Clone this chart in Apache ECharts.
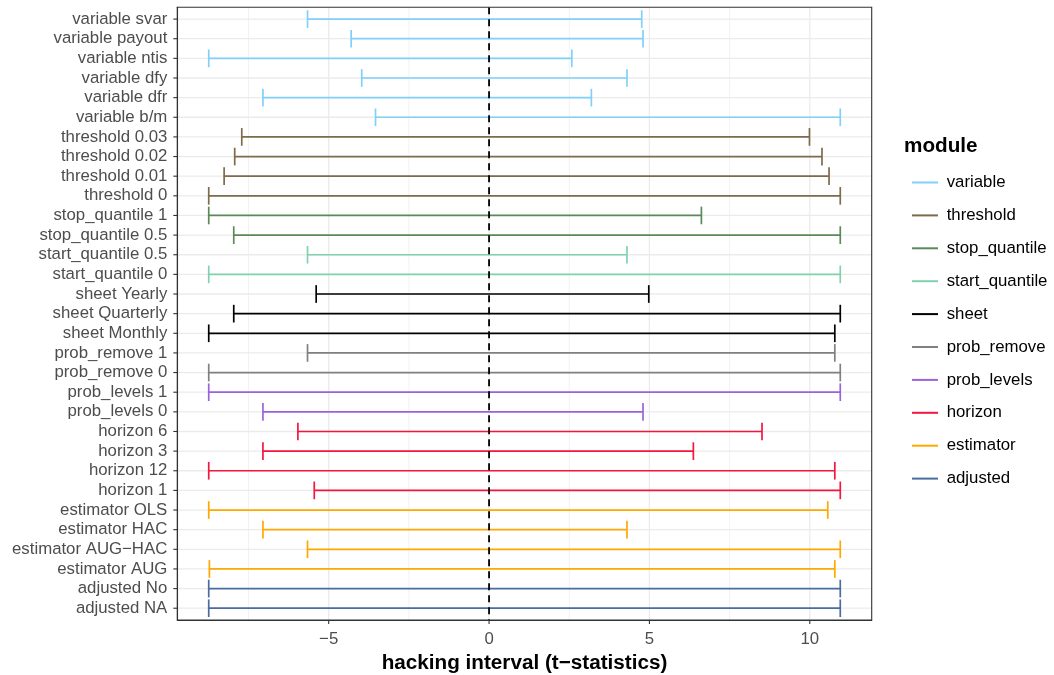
<!DOCTYPE html>
<html>
<head>
<meta charset="utf-8">
<script src="https://cdn.jsdelivr.net/npm/echarts@6/dist/echarts.min.js"></script>
<style>html,body{margin:0;padding:0;background:#fff}#c{width:1054px;height:675px}</style>
</head>
<body>
<div id="c"></div>
<script>
// ---- data (top to bottom) ----
const categories = [
  "variable svar","variable payout","variable ntis","variable dfy","variable dfr","variable b/m",
  "threshold 0.03","threshold 0.02","threshold 0.01","threshold 0",
  "stop_quantile 1","stop_quantile 0.5","start_quantile 0.5","start_quantile 0",
  "sheet Yearly","sheet Quarterly","sheet Monthly",
  "prob_remove 1","prob_remove 0","prob_levels 1","prob_levels 0",
  "horizon 6","horizon 3","horizon 12","horizon 1",
  "estimator OLS","estimator HAC","estimator AUG\u2212HAC","estimator AUG",
  "adjusted No","adjusted NA"
];
const modules = ["variable","variable","variable","variable","variable","variable",
  "threshold","threshold","threshold","threshold",
  "stop_quantile","stop_quantile","start_quantile","start_quantile",
  "sheet","sheet","sheet",
  "prob_remove","prob_remove","prob_levels","prob_levels",
  "horizon","horizon","horizon","horizon",
  "estimator","estimator","estimator","estimator",
  "adjusted","adjusted"];
const lower = [-5.66,-4.30,-8.74,-3.97,-7.05,-3.54,
  -7.71,-7.93,-8.26,-8.74,
  -8.74,-7.96,-5.66,-8.74,
  -5.39,-7.96,-8.74,
  -5.66,-8.74,-8.74,-7.05,
  -5.96,-7.05,-8.74,-5.45,
  -8.74,-7.05,-5.66,-8.72,
  -8.74,-8.74];
const upper = [4.76,4.80,2.58,4.30,3.19,10.95,
  9.99,10.38,10.60,10.95,
  6.62,10.95,4.30,10.95,
  4.98,10.95,10.78,
  10.78,10.95,10.95,4.80,
  8.51,6.37,10.78,10.95,
  10.56,4.30,10.95,10.78,
  10.95,10.95];
const legendOrder = ["variable","threshold","stop_quantile","start_quantile","sheet","prob_remove","prob_levels","horizon","estimator","adjusted"];
const moduleColors = ["#80D0FA","#7D6B4B","#5A8A57","#80D2AE","#000000","#808080","#9C63D9","#F5163F","#FFA800","#4A6CA0"];
const xMajorTicks = [-5,0,5,10];
const xMinorTicks = [-7.5,-2.5,2.5,7.5];
const xMin = -9.72, xMax = 11.93;
const zeroLine = [0];
// --------------------------------

const n = categories.length;
const yIdx = categories.map((_, i) => i);

const chart = echarts.init(document.getElementById('c'), null, {renderer: 'canvas'});
const FONT = '"Liberation Sans", Arial, Helvetica, sans-serif';
const TICK = {stroke:'#333333', lineWidth:1.1};

function gridRender(params, api) {
  const cs = params.coordSys;
  const kind = api.value(0), v = api.value(1);
  if (kind === 2) {
    const p = api.coord([xMin, v]);
    return {type:'group', silent:true, children:[
      {type:'line', shape:{x1:cs.x, y1:p[1], x2:cs.x+cs.width, y2:p[1]}, style:{stroke:'#EBEBEB', lineWidth:1.3}},
      {type:'line', shape:{x1:cs.x-4, y1:p[1], x2:cs.x, y2:p[1]}, style:TICK}
    ]};
  }
  const p = api.coord([v, 0]);
  const children = [{type:'line', shape:{x1:p[0], y1:cs.y, x2:p[0], y2:cs.y+cs.height},
    style:{stroke:'#EBEBEB', lineWidth: kind === 0 ? 1.3 : 0.65}}];
  if (kind === 0) children.push({type:'line', shape:{x1:p[0], y1:cs.y+cs.height, x2:p[0], y2:cs.y+cs.height+4}, style:TICK});
  return {type:'group', silent:true, children};
}
const gridData = [].concat(
  xMajorTicks.map(v => [0, v]),
  xMinorTicks.map(v => [1, v]),
  yIdx.map(v => [2, v])
);

function barRender(params, api) {
  const lo = api.value(0), hi = api.value(1), y = api.value(2);
  const a = api.coord([lo, y]), b = api.coord([hi, y]);
  const h = api.size([0, 1])[1] * 0.9 / 2;
  const color = api.visual('color');
  const st = {stroke: color, lineWidth: 1.7};
  return {type:'group', children:[
    {type:'line', shape:{x1:a[0], y1:a[1], x2:b[0], y2:b[1]}, style:st},
    {type:'line', shape:{x1:a[0], y1:a[1]-h, x2:a[0], y2:a[1]+h}, style:st},
    {type:'line', shape:{x1:b[0], y1:b[1]-h, x2:b[0], y2:b[1]+h}, style:st}
  ]};
}

const series = [{
  type:'custom', name:'_grid', renderItem: gridRender, data: gridData, z:0, silent:true, clip:false,
  encode:{x:1, y:1}, tooltip:{show:false}
}];
legendOrder.forEach((m, k) => {
  const data = [];
  categories.forEach((c, i) => { if (modules[i] === m) data.push([lower[i], upper[i], i]); });
  series.push({type:'custom', name:m, renderItem: barRender, data, z:2,
    itemStyle:{color: moduleColors[k]}, encode:{x:[0,1], y:2}});
});
series.push({type:'custom', name:'_zero', z:3, silent:true, data: zeroLine.map(v=>[v]),
  encode:{x:0},
  renderItem: (params, api) => {
    const cs = params.coordSys;
    const p = api.coord([api.value(0), 0]);
    return {type:'line', shape:{x1:p[0], y1:cs.y, x2:p[0], y2:cs.y+cs.height},
      style:{stroke:'#000', lineWidth:1.8, lineDash:[7,5]}};
  }});

const option = {
  backgroundColor:'#fff',
  animation:false,
  grid:{left:177.3, right:182.3, top:7.3, bottom:55, show:true, borderColor:'#333333', borderWidth:1.1, backgroundColor:'transparent', z:5,
    containLabel:false, outerBoundsMode:'none'},
  xAxis:{type:'value', min:xMin, max:xMax,
    splitLine:{show:false}, axisLine:{show:true, onZero:false, lineStyle:{color:'#333', width:1.1}},
    axisTick:{show:false},
    axisLabel:{customValues: xMajorTicks, color:'#4D4D4D', fontSize:16.8, fontFamily:FONT, margin:11,
      formatter: v => (v < 0 ? '\u2212' + Math.abs(v) : String(v))},
    name:'hacking interval (t\u2212statistics)', nameLocation:'middle', nameGap:31,
    nameTextStyle:{fontSize:20.7, fontWeight:'bold', color:'#000', fontFamily:FONT}
  },
  yAxis:{type:'value', min:-0.6, max:n - 1 + 0.6, inverse:true,
    splitLine:{show:false}, axisLine:{show:true, onZero:false, lineStyle:{color:'#333', width:1.1}},
    axisTick:{show:false},
    axisLabel:{customValues: yIdx, color:'#4D4D4D', fontSize:16.8, fontFamily:FONT, margin:10,
      formatter: v => categories[Math.round(v)]}
  },
  legend:{orient:'vertical', left:907, top:169, data: legendOrder, selectedMode:false,
    itemWidth:26, itemHeight:2, icon:'rect', itemGap:15.9,
    textStyle:{fontSize:16.8, color:'#000', fontFamily:FONT, lineHeight:17, padding:[0,0,0,3.7]}},
  graphic:[{type:'text', left:904, top:136, style:{text:'module', fontSize:20.7, fontWeight:'bold', fill:'#000', fontFamily:FONT}}],
  series
};
chart.setOption(option);
</script>
</body>
</html>
